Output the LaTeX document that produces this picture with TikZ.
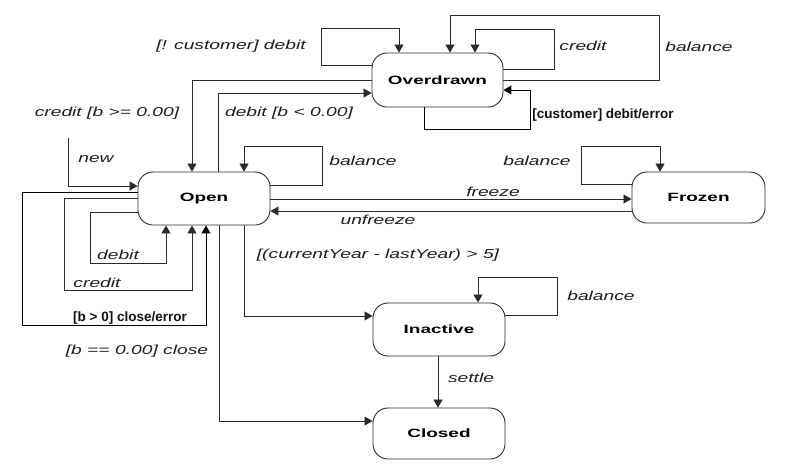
\documentclass[tikz,border=0pt]{standalone}
\usepackage{fontspec}
\usetikzlibrary{arrows.meta}
\newfontfamily\lblfont[FakeStretch=1.48]{Liberation Sans}
\newfontfamily\statefont[FakeStretch=1.58]{Liberation Sans}
\newfontfamily\notefont{Liberation Sans}
\definecolor{linecol}{HTML}{2B2B2B}
\definecolor{textcol}{HTML}{1E1E1E}
\definecolor{notecol}{HTML}{10101C}
\begin{document}
\begin{tikzpicture}[x=1pt,y=-1pt,
  statebox/.style={draw=linecol,line width=0.9pt,rounded corners=15pt,
    minimum width=#1,inner sep=0pt,
    font=\statefont\bfseries\fontsize{12}{14}\selectfont,text=black},
  arr/.style={draw=linecol,line width=0.85pt,
    -{Triangle[length=8pt,width=9pt]}},
  lbl/.style={font=\lblfont\itshape\fontsize{13}{15}\selectfont,
    text=textcol,inner sep=0pt},
  note/.style={font=\notefont\bfseries\fontsize{13.5}{16}\selectfont,
    text=notecol,inner sep=0pt},
  notearr/.style={draw=black,line width=0.95pt,
    -{Triangle[length=8pt,width=9pt]}}]
\useasboundingbox[fill=white] (0,0) rectangle (794,467);

% states
\node[statebox=131pt,minimum height=54pt] (ov) at (437.5,80) {Overdrawn};
\node[statebox=132pt,minimum height=53pt] (open) at (204,198.5) {Open};
\node[statebox=133pt,minimum height=51pt] (frozen) at (698.5,197.5) {Frozen};
\node[statebox=132pt,minimum height=53pt] (inactive) at (439,329.5) {Inactive};
\node[statebox=132pt,minimum height=51pt] (closed) at (439,433.5) {Closed};
\coordinate (newstart) at (68,138);

% Overdrawn transitions
\draw[arr] (ov.west |- 0,65) -- (321,65) -- (321,28) -- (399,28) -- (ov.north -| 399,0);
\draw[arr] (ov.east |- 0,80) -- (659,80) -- (659,15) -- (450,15) -- (ov.north -| 450,0);
\draw[arr] (ov.east |- 0,69) -- (554,69) -- (554,29) -- (475,29) -- (ov.north -| 475,0);
\draw[notearr] (ov.south -| 424,0) -- (424,129) -- (530,129) -- (530,90) -- (ov.east |- 0,90);
\draw[arr] (ov.west |- 0,80) -- (192,80) -- (open.north -| 192,0);
\draw[arr] (open.north -| 218,0) -- (218,93) -- (ov.west |- 0,93);

% Open transitions
\draw[arr] (newstart) -- (68,186) -- (open.west |- 0,186);
\draw[arr] (open.east |- 0,185) -- (322,185) -- (322,146) -- (244,146) -- (open.north -| 244,0);
\draw[arr] (open.east |- 0,199) -- (frozen.west |- 0,199);
\draw[arr] (frozen.west |- 0,211) -- (open.east |- 0,211);
\draw[arr] (frozen.west |- 0,184) -- (581,184) -- (581,146) -- (660,146) -- (frozen.north -| 660,0);
\draw[arr] (open.west |- 0,212) -- (90,212) -- (90,263) -- (166,263) -- (open.south -| 166,0);
\draw[arr] (open.west |- 0,198) -- (64,198) -- (64,290) -- (192,290) -- (open.south -| 192,0);
\draw[notearr] (open.west |- 0,192) -- (22,192) -- (22,325) -- (206,325) -- (open.south -| 206,0);
\draw[arr] (open.south -| 244,0) -- (244,316) -- (inactive.west |- 0,316);
\draw[arr] (open.south -| 219,0) -- (219,421) -- (closed.west |- 0,421);

% Inactive transitions
\draw[arr] (inactive.east |- 0,315) -- (557,315) -- (557,277) -- (478,277) -- (inactive.north -| 478,0);
\draw[arr] (inactive.south -| 438,0) -- (closed.north -| 438,0);

% transition labels
\node[lbl] (l1) at (231,46) {[! customer] debit};
\node[lbl] (l2) at (583,46) {credit};
\node[lbl] (l3) at (699,47) {balance};
\node[note] (l4) at (603,115) {[customer] debit/error};
\node[lbl] (l5) at (107,113) {credit [b >= 0.00]};
\node[lbl] (l6) at (289,113) {debit [b < 0.00]};
\node[lbl] (l7) at (96,159) {new};
\node[lbl] (l8) at (363,161) {balance};
\node[lbl] (l9) at (537,161) {balance};
\node[lbl] (l10) at (493,192) {freeze};
\node[lbl] (l11) at (378,220) {unfreeze};
\node[lbl] (l12) at (378,255) {[(currentYear - lastYear) > 5]};
\node[lbl] (l13) at (118,255) {debit};
\node[lbl] (l14) at (97,283) {credit};
\node[note] (l15) at (130,318) {[b > 0] close/error};
\node[lbl] (l16) at (137,351) {[b == 0.00] close};
\node[lbl] (l17) at (601,296) {balance};
\node[lbl] (l18) at (471,378) {settle};
\end{tikzpicture}
\end{document}
